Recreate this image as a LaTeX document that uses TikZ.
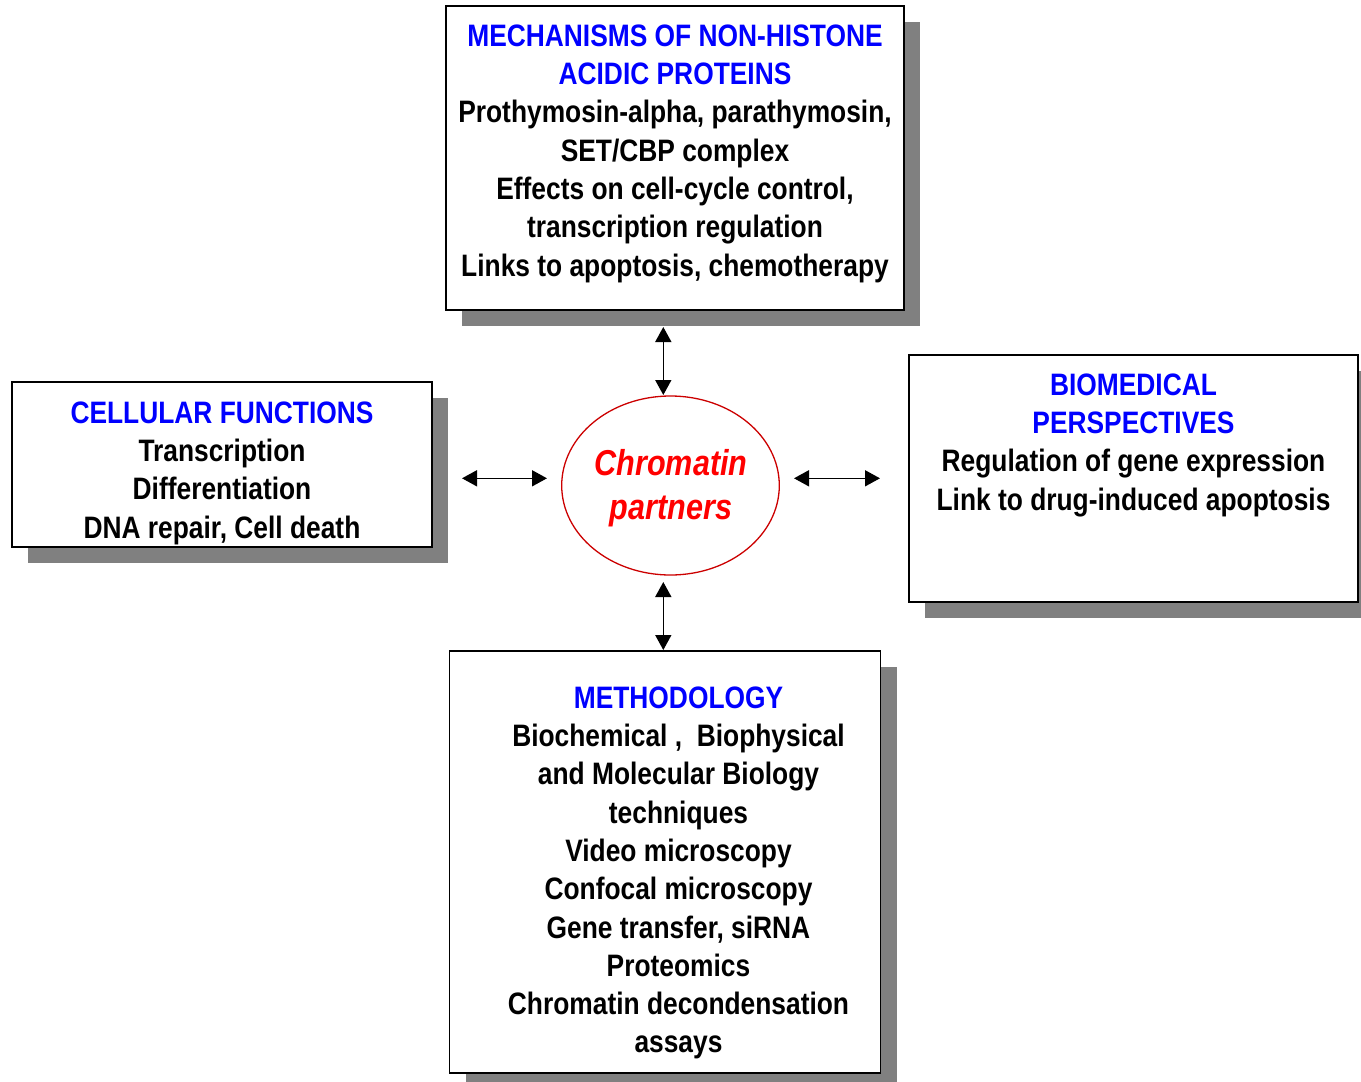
\documentclass[tikz,border=0pt]{standalone}
\usepackage{fontspec}
\setmainfont{Liberation Sans}[FakeStretch=0.85]
\usetikzlibrary{arrows.meta,shadows,shapes.geometric}
\definecolor{tblue}{RGB}{0,0,255}
\definecolor{shgray}{RGB}{128,128,128}
\definecolor{ellred}{RGB}{204,0,0}
\definecolor{txtred}{RGB}{255,0,0}
\newcommand\fst{\rule{0pt}{25pt}}
\newcommand\fsb{\rule{0pt}{28pt}}
\begin{document}
\begin{tikzpicture}[x=1pt,y=-1pt,
  panel/.style={draw=black, line width=1.8pt, fill=white, inner sep=0pt,
    general shadow={fill=shgray, shadow xshift=16pt, shadow yshift=-16pt}},
  body/.style={align=center, anchor=north, inner sep=0pt,
    font=\fontsize{31}{38.3}\selectfont\bfseries},
  hub/.style={ellipse, draw=ellred, line width=1.3pt, fill=white, inner sep=0pt},
  hubtext/.style={align=center, anchor=north, inner sep=0pt, text=txtred,
    font=\fontsize{36}{44}\selectfont\bfseries\itshape},
  link/.style={{Triangle[width=16pt,length=15pt]}-{Triangle[width=16pt,length=15pt]}, line width=1.6pt}]
\useasboundingbox (0,0) rectangle (1361,1082);
\fill[white] (0,0) rectangle (1361,1082);

% panels
\node[panel, minimum width=458pt, minimum height=304pt] (mech) at (675,158) {};
\node[panel, minimum width=420pt, minimum height=165pt] (cell) at (222,464.5) {};
\node[panel, minimum width=449pt, minimum height=247pt] (bio) at (1133.5,478.5) {};
\node[panel, minimum width=431pt, minimum height=422pt] (meth) at (665,862) {};

% panel texts
\node[body] (mechtext) at (675,21) {\fst\textcolor{tblue}{MECHANISMS OF NON-HISTONE}\\
  \textcolor{tblue}{ACIDIC PROTEINS}\\
  Prothymosin-alpha, parathymosin,\\
  SET/CBP complex\\
  Effects on cell-cycle control,\\
  transcription regulation\\
  Links to apoptosis, chemotherapy};
\node[body] (celltext) at (222,398) {\fst\textcolor{tblue}{CELLULAR FUNCTIONS}\\
  Transcription\\
  Differentiation\\
  DNA repair, Cell death};
\node[body] (biotext) at (1133.5,370) {\fst\textcolor{tblue}{BIOMEDICAL}\\
  \textcolor{tblue}{PERSPECTIVES}\\
  Regulation of gene expression\\
  Link to drug-induced apoptosis};
\node[body] (methtext) at (678.5,683) {\fst\textcolor{tblue}{METHODOLOGY}\\
  Biochemical ,\ \ Biophysical\\
  and Molecular Biology\\
  techniques\\
  Video microscopy\\
  Confocal microscopy\\
  Gene transfer, siRNA\\
  Proteomics\\
  Chromatin decondensation\\
  assays};

% hub
\node[hub, minimum width=217.6pt, minimum height=179pt] (hub) at (670.5,485.5) {};
\node[hubtext] (hubtxt) at (671,447) {\fsb Chromatin\\partners};

% connector ends
\coordinate (t1) at (663.3,327);
\coordinate (t2) at (663.3,395);
\coordinate (b1) at (663.3,582);
\coordinate (b2) at (663.3,650);
\coordinate (l1) at (462,478.3);
\coordinate (l2) at (547,478.3);
\coordinate (r1) at (794,478.3);
\coordinate (r2) at (880,478.3);

\draw[link] (t1) -- (t2);
\draw[link] (b1) -- (b2);
\draw[link] (l1) -- (l2);
\draw[link] (r1) -- (r2);
\end{tikzpicture}
\end{document}
